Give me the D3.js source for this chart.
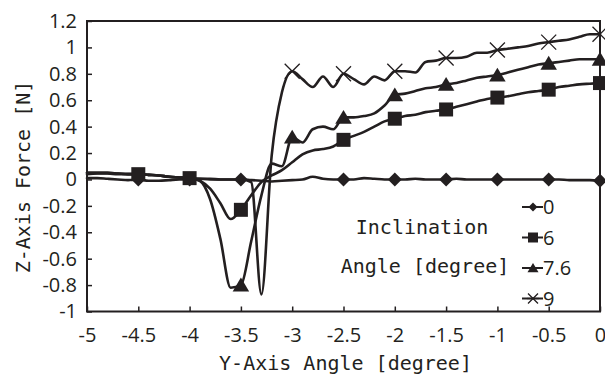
<!DOCTYPE html>
<html>
<head>
<meta charset="utf-8">
<script src="https://cdn.jsdelivr.net/npm/d3@7"></script>
<style>
  html, body { margin: 0; padding: 0; background: #fff; overflow: hidden; }
  svg { display: block; }
</style>
</head>
<body>
<svg id="chart" width="605" height="376"></svg>
<script>
// Y-axis angle [degree], sampled every 0.1 degree
const angles = [-5, -4.9, -4.8, -4.7, -4.6, -4.5, -4.4, -4.3, -4.2, -4.1,
                -4, -3.9, -3.8, -3.7, -3.6, -3.5, -3.4, -3.3, -3.2, -3.1,
                -3, -2.9, -2.8, -2.7, -2.6, -2.5, -2.4, -2.3, -2.2, -2.1,
                -2, -1.9, -1.8, -1.7, -1.6, -1.5, -1.4, -1.3, -1.2, -1.1,
                -1, -0.9, -0.8, -0.7, -0.6, -0.5, -0.4, -0.3, -0.2, -0.1, 0];

// Z-axis force [N] for each inclination angle
const force0 = [0.01, 0.01, 0.005, 0, -0.005, 0, -0.01, -0.01, -0.005, 0,
                0, 0.005, 0.005, 0, 0, 0, -0.005, -0.01, -0.015, -0.01,
                -0.005, 0, 0.02, 0.005, 0, 0, 0, 0.01, 0.005, 0,
                0, 0, 0.005, 0, 0, 0, 0.005, 0, 0, 0,
                0, 0, 0, 0, 0, 0, 0, -0.005, -0.005, -0.005, -0.01];
const force6 = [0.04, 0.045, 0.045, 0.04, 0.04, 0.04, 0.035, 0.03, 0.02, 0.015,
                0.01, -0.01, -0.07, -0.18, -0.30, -0.23, -0.12, -0.02, 0.03, 0.07,
                0.13, 0.19, 0.22, 0.23, 0.25, 0.30, 0.33, 0.36, 0.40, 0.44,
                0.46, 0.48, 0.49, 0.51, 0.52, 0.53, 0.55, 0.57, 0.59, 0.61,
                0.62, 0.63, 0.645, 0.66, 0.67, 0.68, 0.70, 0.71, 0.72, 0.725, 0.73];
const force76 = [0.05, 0.05, 0.05, 0.045, 0.04, 0.04, 0.035, 0.03, 0.02, 0.015,
                 0.01, -0.01, -0.15, -0.45, -0.82, -0.80, -0.47, -0.12, 0.12, 0.10,
                 0.32, 0.28, 0.38, 0.40, 0.38, 0.47, 0.47, 0.48, 0.50, 0.56,
                 0.64, 0.65, 0.67, 0.69, 0.70, 0.72, 0.73, 0.75, 0.77, 0.78,
                 0.79, 0.81, 0.83, 0.85, 0.87, 0.88, 0.89, 0.90, 0.91, 0.91, 0.91];
const force9 = [0.05, 0.05, 0.05, 0.045, 0.04, 0.04, 0.035, 0.03, 0.02, 0.015,
                0.01, 0.005, 0, 0, 0, 0, -0.02, -0.87, 0.18, 0.66,
                0.82, 0.76, 0.70, 0.78, 0.70, 0.80, 0.76, 0.72, 0.78, 0.75,
                0.82, 0.82, 0.81, 0.89, 0.90, 0.92, 0.92, 0.93, 0.96, 0.96,
                0.98, 0.99, 1.00, 1.01, 1.03, 1.04, 1.05, 1.06, 1.08, 1.10, 1.10];

// Angles at which each series carries a marker
const markers0 = [-4.5, -4, -3.5, -2.5, -2, -1.5, -1, -0.5, 0];
const markers6 = [-4.5, -4, -3.5, -2.5, -2, -1.5, -1, -0.5, 0];
const markers76 = [-3.5, -3, -2.5, -2, -1.5, -1, -0.5, 0];
const markers9 = [-3, -2.5, -2, -1.5, -1, -0.5, 0];

const seriesNames = ["0", "6", "7.6", "9"];

const xTicks = [-5, -4.5, -4, -3.5, -3, -2.5, -2, -1.5, -1, -0.5, 0];
const xTickLabels = ["-5", "-4.5", "-4", "-3.5", "-3", "-2.5", "-2", "-1.5", "-1", "-0.5", "0"];
const yTicks = [1.2, 1, 0.8, 0.6, 0.4, 0.2, 0, -0.2, -0.4, -0.6, -0.8, -1];
const yTickLabels = ["1.2", "1", "0.8", "0.6", "0.4", "0.2", "0", "-0.2", "-0.4", "-0.6", "-0.8", "-1"];

const xTitle = "Y-Axis Angle [degree]";
const yTitle = "Z-Axis Force [N]";
const legendTitle = ["Inclination", "Angle [degree]"];

// ---- layout ----
const ink = "#231f20";
const plot = { left: 87, right: 600, top: 21, bottom: 311.5 };
const numFont = "'Open Sans', 'DejaVu Sans', sans-serif";
const monoFont = "'DejaVu Sans Mono', 'Liberation Mono', monospace";

const svg = d3.select("#chart");

const x = d3.scaleLinear().domain([-5, 0]).range([plot.left, plot.right]);
const y = d3.scaleLinear().domain([-1, 1.2]).range([plot.bottom, plot.top]);

// marker shapes, centred on the origin
const shapes = {
  diamond: (s) => `M0,${-s}L${s},0L0,${s}L${-s},0Z`,
  square: (s) => `M${-s},${-s}H${s}V${s}H${-s}Z`,
  triangle: (s) => `M0,${-s}L${s * 1.1},${s * 0.85}L${-s * 1.1},${s * 0.85}Z`,
  cross: (s) => `M${-s},${-s}L${s},${s}M${-s},${s}L${s},${-s}`
};

const series = [
  { name: seriesNames[0], values: force0, marks: markers0, shape: "diamond", size: 7 },
  { name: seriesNames[1], values: force6, marks: markers6, shape: "square", size: 7 },
  { name: seriesNames[2], values: force76, marks: markers76, shape: "triangle", size: 7.5 },
  { name: seriesNames[3], values: force9, marks: markers9, shape: "cross", size: 7.5 }
];

// ---- axes ----
const xAxis = d3.axisBottom(x)
  .tickValues(xTicks)
  .tickFormat((d, i) => xTickLabels[i])
  .tickSizeInner(-5).tickSizeOuter(0).tickPadding(16);
const yAxis = d3.axisLeft(y)
  .tickValues(yTicks)
  .tickFormat((d, i) => yTickLabels[i])
  .tickSizeInner(-5).tickSizeOuter(0).tickPadding(10);

const gx = svg.append("g").attr("transform", `translate(0,${plot.bottom})`).call(xAxis);
const gy = svg.append("g").attr("transform", `translate(${plot.left},0)`).call(yAxis);
[gx, gy].forEach(g => {
  g.select(".domain").remove();
  g.selectAll(".tick line").attr("stroke", ink).attr("stroke-width", 1.5);
  g.selectAll(".tick text").attr("fill", ink)
    .style("font-family", numFont).style("font-size", "20px");
});

// ---- series lines ----
const line = d3.line()
  .x((d) => x(d[0]))
  .y((d) => y(d[1]))
  .curve(d3.curveMonotoneX);

const gLines = svg.append("g");
series.forEach(s => {
  const pts = angles.map((a, i) => [a, s.values[i]]);
  gLines.append("path")
    .attr("d", line(pts))
    .attr("fill", "none")
    .attr("stroke", ink)
    .attr("stroke-width", 2.6)
    .attr("stroke-linejoin", "round")
    .attr("stroke-linecap", "round");
});

// ---- markers ----
function drawMarker(g, s, cx, cy, size) {
  const p = g.append("path")
    .attr("transform", `translate(${cx},${cy})`)
    .attr("d", shapes[s.shape](size));
  if (s.shape === "cross") {
    p.attr("fill", "none").attr("stroke", ink).attr("stroke-width", 1.3);
  } else {
    p.attr("fill", ink).attr("stroke", "none");
  }
}

const gMarks = svg.append("g");
series.forEach(s => {
  s.marks.forEach(a => {
    const i = angles.findIndex(v => Math.abs(v - a) < 1e-9);
    drawMarker(gMarks, s, x(a), y(s.values[i]), s.size);
  });
});

// ---- frame ----
svg.append("rect")
  .attr("x", plot.left).attr("y", plot.top)
  .attr("width", plot.right - plot.left)
  .attr("height", plot.bottom - plot.top)
  .attr("fill", "none").attr("stroke", ink).attr("stroke-width", 2);

// ---- titles ----
svg.append("text")
  .attr("x", (plot.left + plot.right) / 2 + 2)
  .attr("y", 370)
  .attr("text-anchor", "middle")
  .attr("fill", ink)
  .style("font-family", monoFont).style("font-size", "20px")
  .text(xTitle);

svg.append("text")
  .attr("transform", "translate(30,177) rotate(-90)")
  .attr("text-anchor", "middle")
  .attr("fill", ink)
  .style("font-family", monoFont).style("font-size", "20px")
  .text(yTitle);

// ---- legend ----
const gLegend = svg.append("g");
gLegend.append("text")
  .attr("x", 422).attr("y", 234)
  .attr("text-anchor", "middle").attr("fill", ink)
  .style("font-family", monoFont).style("font-size", "20px")
  .text(legendTitle[0]);
gLegend.append("text")
  .attr("x", 425).attr("y", 273)
  .attr("text-anchor", "middle").attr("fill", ink)
  .style("font-family", monoFont).style("font-size", "20px")
  .text(legendTitle[1]);

series.forEach((s, i) => {
  const ly = 207 + i * 30.5;
  gLegend.append("line")
    .attr("x1", 522).attr("x2", 543)
    .attr("y1", ly).attr("y2", ly)
    .attr("stroke", ink).attr("stroke-width", 2);
  drawMarker(gLegend, s, 533, ly, s.shape === "diamond" ? 4.5 : 5);
  if (s.shape === "cross") {
    gLegend.append("line").attr("x1", 527).attr("x2", 539)
      .attr("y1", ly).attr("y2", ly).attr("stroke", ink).attr("stroke-width", 1.3);
  }
  gLegend.append("text")
    .attr("x", 543).attr("y", ly + 7)
    .attr("fill", ink)
    .style("font-family", numFont).style("font-size", "20px")
    .text(s.name);
});
</script>
</body>
</html>
